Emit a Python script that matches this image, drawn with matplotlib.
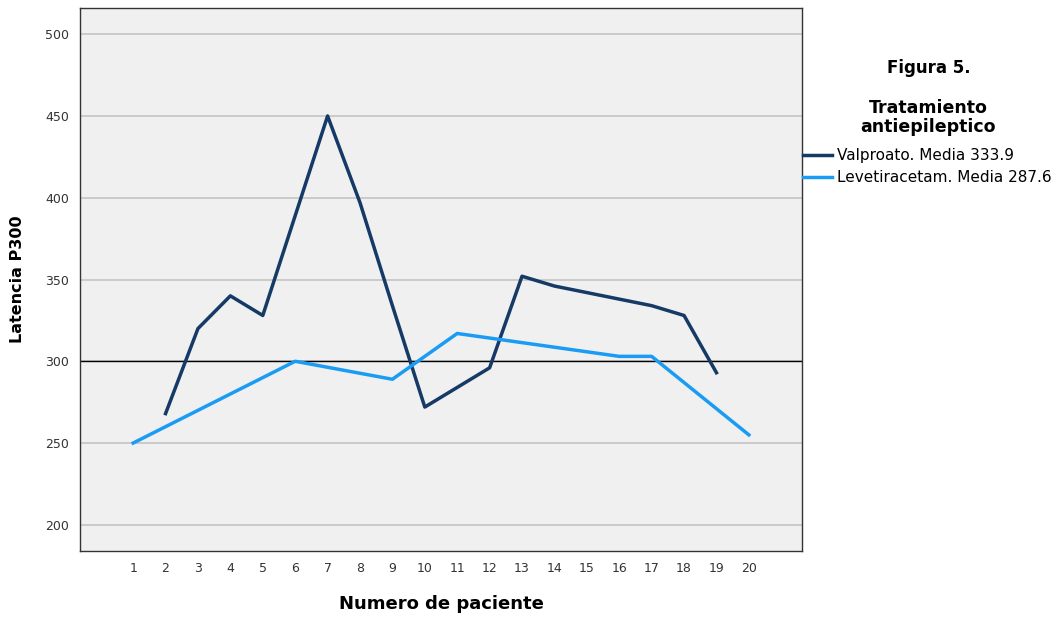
import numpy as np
import matplotlib.pyplot as plt

plt.rcParams['font.family'] = ['DejaVu Sans']

# data
pac_valp = [2, 3, 4, 5, 6, 7, 8, 9, 10, 11, 12, 13, 14, 15, 16, 17, 18, 19]
lat_valp = [268, 320, 340, 328, 389, 450, 397, 334, 272, 284, 296, 352, 346, 342, 338, 334, 328, 293]
pac_leve = [1, 6, 9, 11, 16, 17, 20]
lat_leve = [250, 300, 289, 317, 303, 303, 255]
xticks = list(range(1, 21))
yticks = [200, 250, 300, 350, 400, 450, 500]

col_valp = '#153a66'
col_leve = '#1a9cf5'

fig = plt.figure(figsize=(10.61, 6.17), dpi=100)
ax = fig.add_axes([0.0754, 0.107, 0.6805, 0.880])
ax.set_facecolor('#f0f0f0')

for y in yticks:
    ax.axhline(y, color='#c4c4c4', lw=1.2, zorder=1)
ax.axhline(300, color='black', lw=1.0, zorder=2)

ax.plot(pac_valp, lat_valp, color=col_valp, lw=2.5, label='Valproato. Media 333.9', zorder=3)
ax.plot(pac_leve, lat_leve, color=col_leve, lw=2.5, label='Levetiracetam. Media 287.6', zorder=3)

ax.set_xlim(-0.64, 21.64)
ax.set_ylim(184, 516)
ax.set_xticks(xticks)
ax.set_yticks(yticks)
ax.tick_params(axis='both', length=0, labelsize=9, colors='#333333', pad=8)
for s in ax.spines.values():
    s.set_color('#333333')
    s.set_linewidth(1.0)

ax.set_xlabel('Numero de paciente', fontsize=13, fontweight='bold', labelpad=14)
ax.set_ylabel('Latencia P300', fontsize=11.5, fontweight='bold', labelpad=14)

fig.text(0.875, 0.890, 'Figura 5.', ha='center', va='center',
         fontsize=12, fontweight='bold')
fig.text(0.875, 0.810, 'Tratamiento\nantiepileptico', ha='center', va='center',
         fontsize=12.5, fontweight='bold', linespacing=1.1)

leg = fig.legend(loc='upper left', bbox_to_anchor=(0.757, 0.760), frameon=False,
                 fontsize=11, handlelength=1.9, handletextpad=0.3,
                 labelspacing=0.45, borderaxespad=0, borderpad=0)

fig.savefig('out.png', dpi=100)
